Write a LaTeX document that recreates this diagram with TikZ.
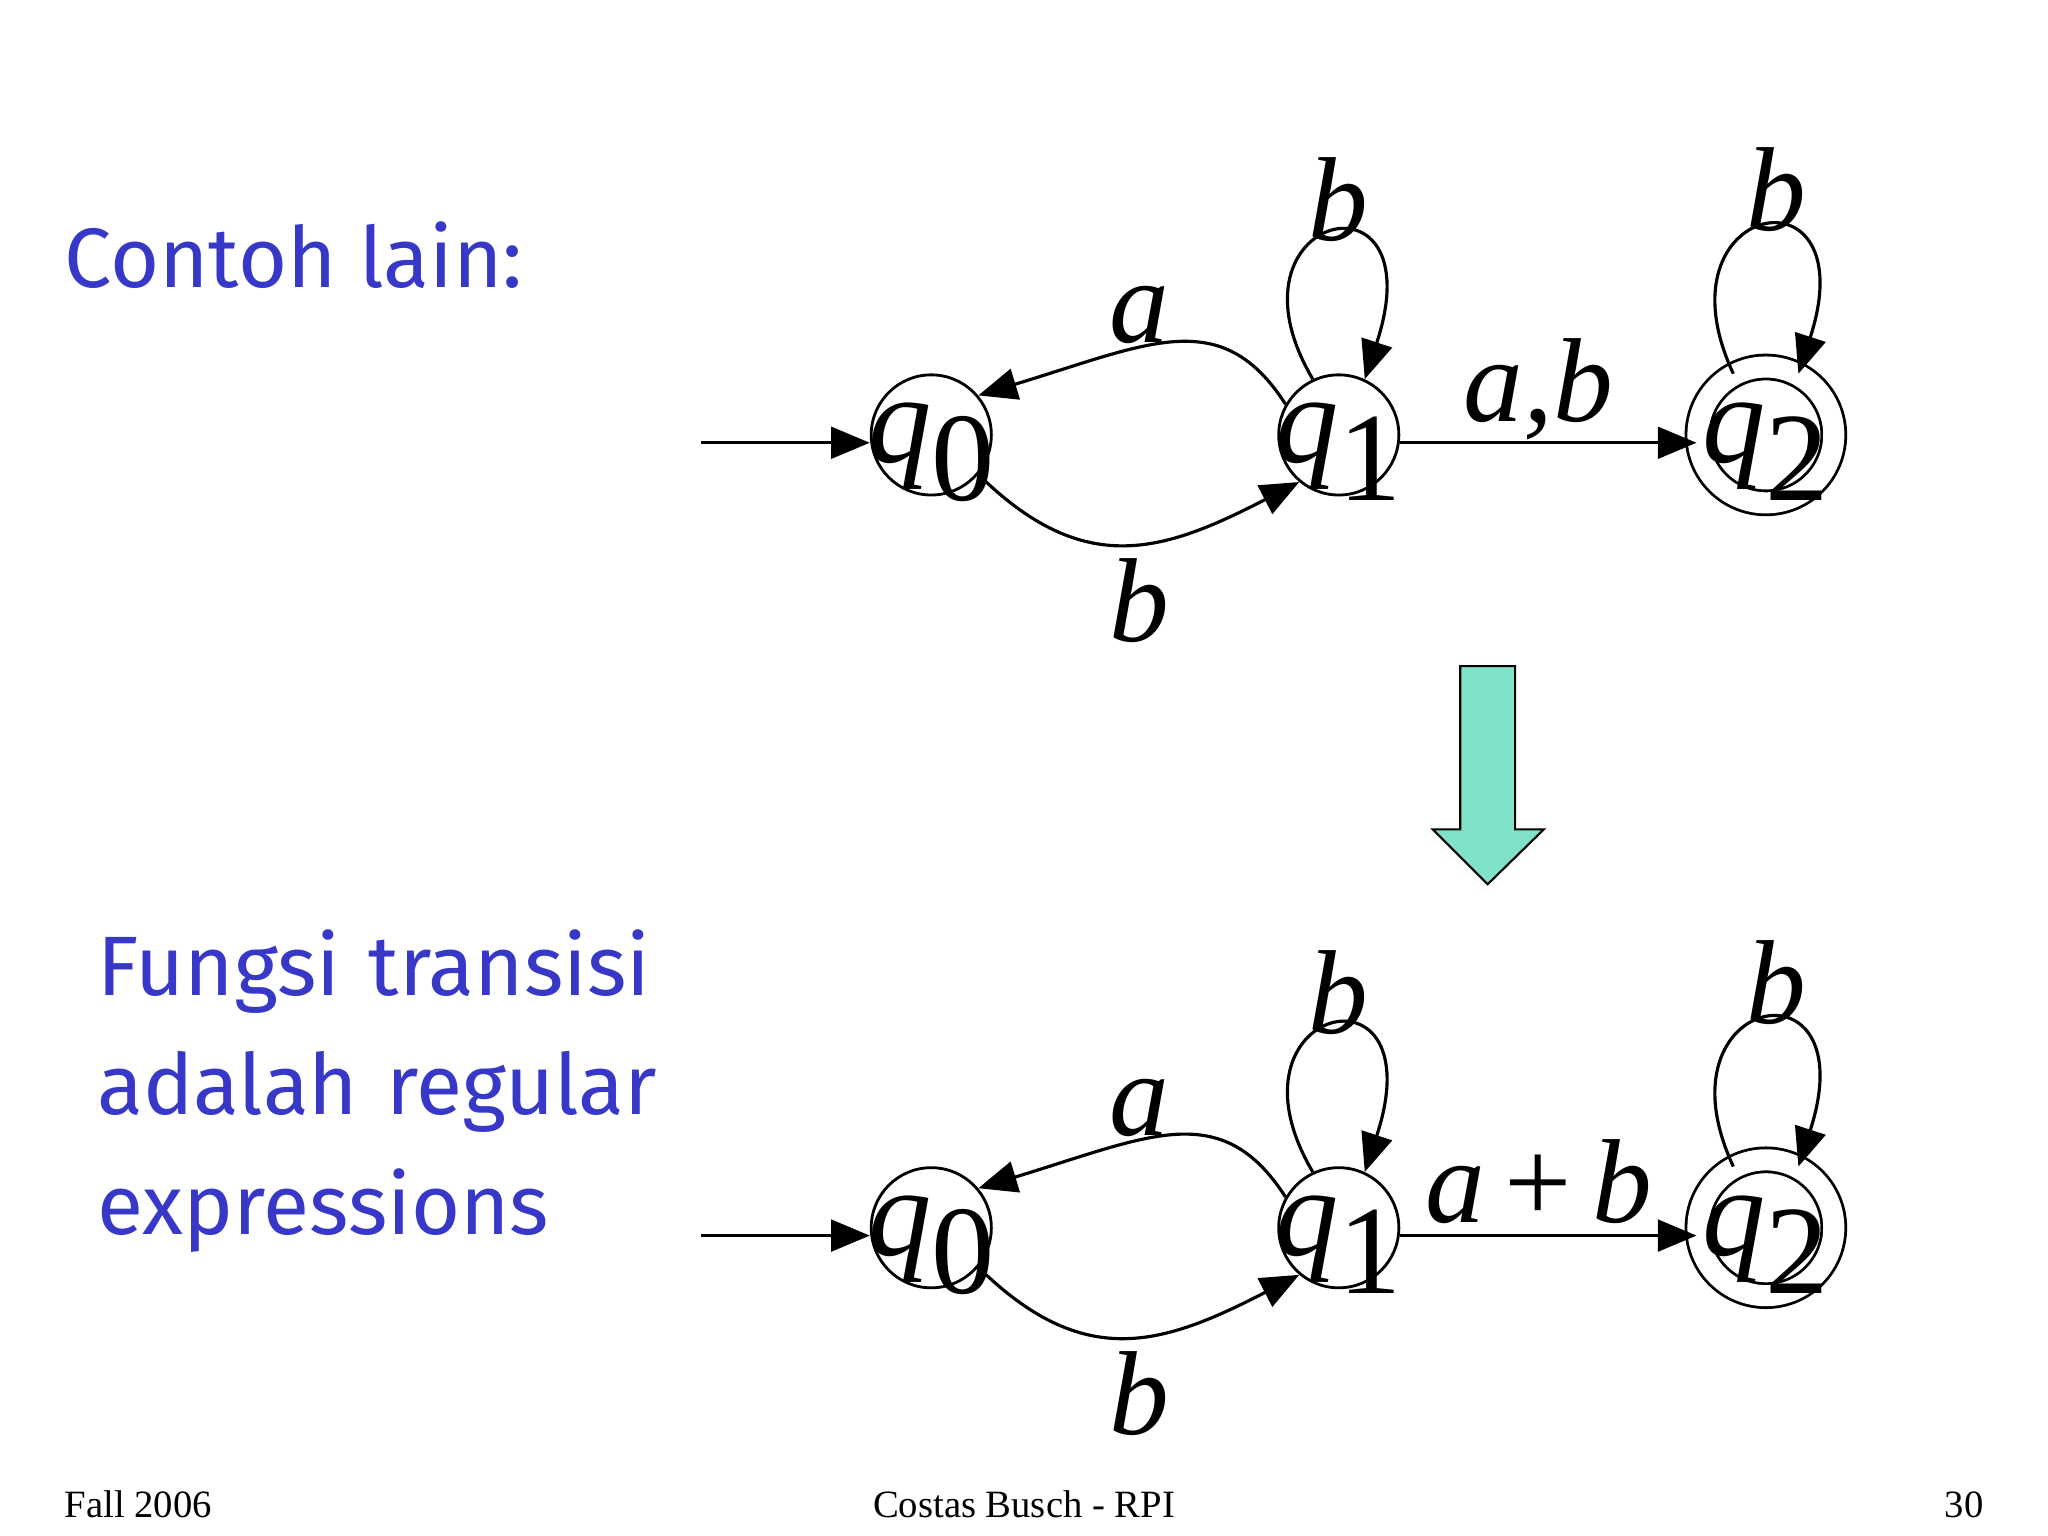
\documentclass[tikz,border=0pt]{standalone}
\usepackage{fontspec}
\setmainfont{Liberation Serif}
\newfontfamily\handfont{Fira Sans}
\usetikzlibrary{arrows.meta}
\definecolor{hblue}{RGB}{55,55,200}
\definecolor{agreen}{RGB}{128,226,200}
\newcommand{\qs}[1]{\makebox[0pt]{\raisebox{-0.22em}[0pt][0pt]{\textit{q}\raisebox{-0.3em}{#1}}}}
\begin{document}
\begin{tikzpicture}[x=0.01306cm,y=-0.01306cm,
  st/.style={circle,draw,line width=0.8pt,minimum size=92*0.01306cm,inner sep=0pt,font=\fontsize{36}{40}\selectfont},
  acc/.style={st,double,double distance=6pt,minimum size=104*0.01306cm},
  ed/.style={line width=0.9pt,-{Triangle[length=11pt,width=9pt]}},
  lab/.style={font=\fontsize{34}{38}\selectfont\itshape},
  head/.style={font=\handfont\fontsize{24}{34}\selectfont,text=hblue,align=left,anchor=west},
  foot/.style={font=\fontsize{11}{13}\selectfont}]
\useasboundingbox (0,0) rectangle (1568,1176);
\node[head] (t1) at (40,195) {Contoh lain:};
\node[head,text width=12cm] (t2) at (65,835) {Fungsi transisi\\adalah regular\\expressions};
\node[foot,anchor=west] (f1) at (40,1152) {Fall 2006};
\node[foot] (f2) at (784,1152) {Costas Busch - RPI};
\node[foot,anchor=east] (f3) at (1528,1152) {30};
\foreach \y/\lbl/\nm in {333/{a,b}/u,940/{a\,{\upshape+}\,b}/d}{
  \node[st] (q0\nm) at (713,\y) {\qs{0}};
  \node[st] (q1\nm) at (1025,\y) {\qs{1}};
  \node[acc] (q2\nm) at (1352,\y) {\qs{2}};
  \coordinate (s\nm) at (537,\y+6);
  \draw[ed] (s\nm) -- (s\nm -| q0\nm.west);
  \draw[ed] (q1\nm.150) .. controls (935,\y-100) and (880,\y-70) .. (q0\nm.40);
  \draw[ed] (q0\nm.-40) .. controls (830,\y+110) and (890,\y+90) .. (q1\nm.-130);
  \draw[ed] (q1\nm.115) .. controls (930,\y-170) and (1100,\y-210) .. (q1\nm.65);
  \draw[ed] (q2\nm.118) .. controls (1265,\y-180) and (1430,\y-210) .. (q2\nm.62);
  \coordinate (r\nm) at (1072,\y+6);
  \draw[ed] (r\nm) -- (r\nm -| q2\nm.west);
  \node[lab] (la\nm) at (872,\y-92) {a};
  \node[lab] (lb\nm) at (872,\y+127) {b};
  \node[lab] (lc\nm) at (1025,\y-180) {b};
  \node[lab] (ld\nm) at (1360,\y-188) {b};
  \node[lab] (le\nm) at (1178,\y-35) {\lbl};
}
\draw[fill=agreen,line width=0.6pt] (1118,510) -- (1160,510) -- (1160,635) -- (1182,635) -- (1139,677) -- (1097,635) -- (1118,635) -- cycle;
\end{tikzpicture}
\end{document}
